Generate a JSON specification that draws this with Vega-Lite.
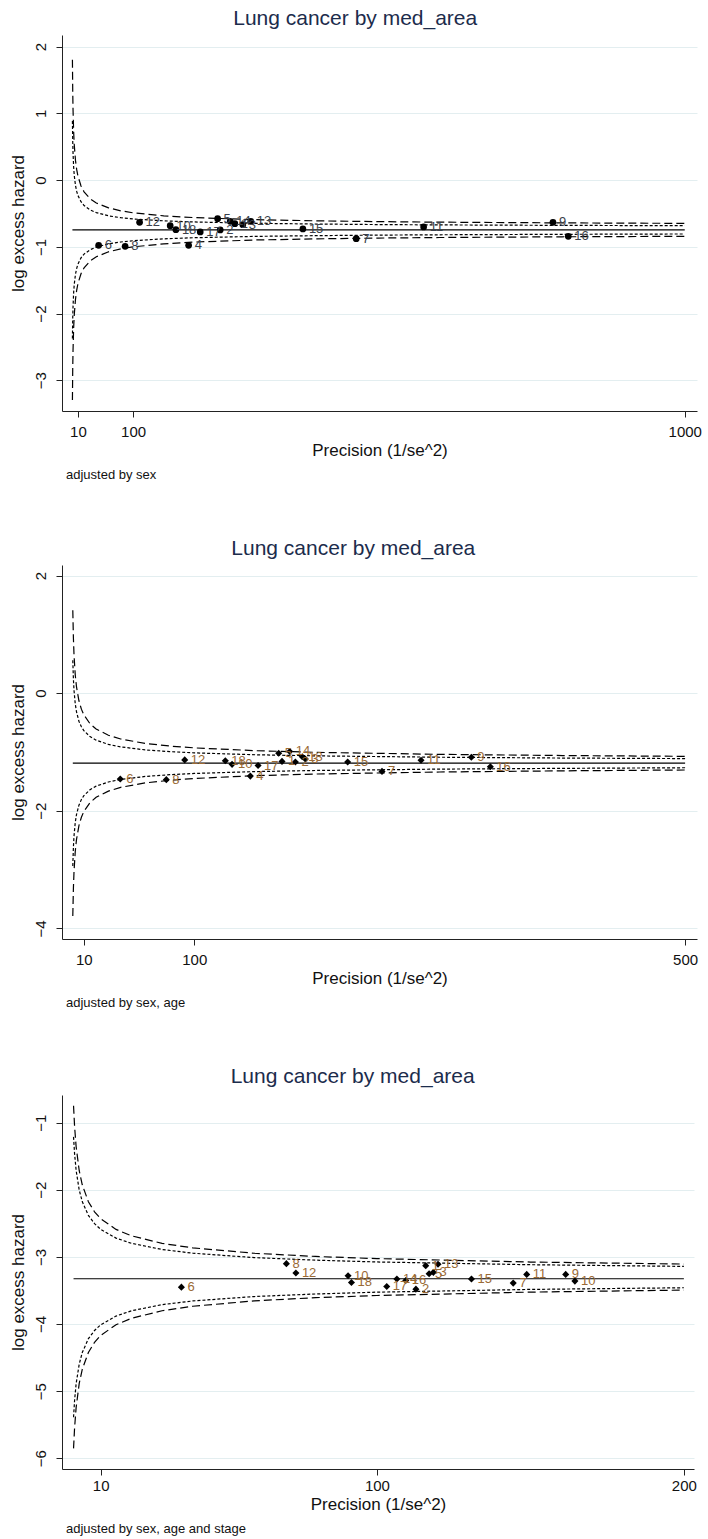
{
  "$schema": "https://vega.github.io/schema/vega-lite/v6.json",
  "background": "white",
  "padding": {"left": 8, "top": 8, "right": 0, "bottom": 0},
  "config": {
    "view": {"stroke": null},
    "font": "Liberation Sans, Arial",
    "axis": {
      "domainColor": "#222", "tickColor": "#222", "labelColor": "#111", "titleColor": "#111",
      "labelFont": "Liberation Sans, Arial", "titleFont": "Liberation Sans, Arial",
      "labelFontSize": 15, "titleFontSize": 17, "titleFontWeight": "normal", "tickSize": 6, "format": "d"
    },
    "axisX": {"grid": false, "labelPadding": 7, "titlePadding": 3},
    "axisY": {"grid": true, "gridColor": "#e3eef0", "labelAngle": -90, "labelAlign": "center", "labelBaseline": "bottom", "labelPadding": 8, "titlePadding": 6},
    "title": {"font": "Liberation Sans, Arial", "fontWeight": "normal"},
    "concat": {"spacing": 56}
  },
  "datasets": {
    "p1": [
      {"a": "12", "p": 110.6, "y": -0.633}, {"a": "10", "p": 160.5, "y": -0.682}, {"a": "18", "p": 169.8, "y": -0.742},
      {"a": "17", "p": 209.5, "y": -0.777}, {"a": "5", "p": 237.9, "y": -0.577}, {"a": "2", "p": 242.1, "y": -0.747},
      {"a": "14", "p": 258.4, "y": -0.618}, {"a": "1", "p": 266, "y": -0.652}, {"a": "3", "p": 279, "y": -0.667},
      {"a": "13", "p": 292, "y": -0.618}, {"a": "15", "p": 377, "y": -0.732}, {"a": "11", "p": 574, "y": -0.702},
      {"a": "9", "p": 785, "y": -0.633}, {"a": "16", "p": 810, "y": -0.842}, {"a": "7", "p": 464, "y": -0.877},
      {"a": "6", "p": 43.8, "y": -0.977}, {"a": "8", "p": 87, "y": -0.992}, {"a": "4", "p": 190.6, "y": -0.977}
    ],
    "p2": [
      {"a": "12", "p": 92.2, "y": -1.134}, {"a": "18", "p": 125.3, "y": -1.15}, {"a": "10", "p": 130.8, "y": -1.21},
      {"a": "17", "p": 152, "y": -1.23}, {"a": "5", "p": 168.8, "y": -1.02}, {"a": "1", "p": 171.5, "y": -1.16},
      {"a": "14", "p": 177.8, "y": -0.99}, {"a": "2", "p": 182.4, "y": -1.17}, {"a": "13", "p": 188, "y": -1.08},
      {"a": "3", "p": 190.5, "y": -1.12}, {"a": "15", "p": 225, "y": -1.17}, {"a": "11", "p": 284.8, "y": -1.14},
      {"a": "9", "p": 325.8, "y": -1.09}, {"a": "16", "p": 341.3, "y": -1.25}, {"a": "7", "p": 253, "y": -1.33},
      {"a": "4", "p": 145.7, "y": -1.41}, {"a": "6", "p": 39.7, "y": -1.46}, {"a": "8", "p": 77.2, "y": -1.47}
    ],
    "p3": [
      {"a": "8", "p": 70.5, "y": -3.1}, {"a": "12", "p": 73.6, "y": -3.24}, {"a": "10", "p": 90.6, "y": -3.28},
      {"a": "18", "p": 91.7, "y": -3.38}, {"a": "17", "p": 103.2, "y": -3.44}, {"a": "14", "p": 106.5, "y": -3.33},
      {"a": "16", "p": 109.4, "y": -3.35}, {"a": "2", "p": 112.7, "y": -3.48}, {"a": "1", "p": 115.9, "y": -3.13},
      {"a": "5", "p": 117, "y": -3.25}, {"a": "3", "p": 118.4, "y": -3.23}, {"a": "13", "p": 119.9, "y": -3.11},
      {"a": "15", "p": 130.8, "y": -3.33}, {"a": "7", "p": 144.4, "y": -3.39}, {"a": "11", "p": 148.8, "y": -3.26},
      {"a": "9", "p": 161.5, "y": -3.26}, {"a": "10", "p": 164.5, "y": -3.36}, {"a": "6", "p": 36.3, "y": -3.45}
    ],
    "c1": [
      {"p": 1, "ohi": 1.805, "olo": -3.295, "ihi": 0.885, "ilo": -2.375, "m": -0.745},
      {"p": 1.5, "ohi": 1.337, "olo": -2.827, "ihi": 0.586, "ilo": -2.076, "m": -0.745},
      {"p": 2, "ohi": 1.058, "olo": -2.548, "ihi": 0.408, "ilo": -1.898, "m": -0.745},
      {"p": 3, "ohi": 0.727, "olo": -2.217, "ihi": 0.196, "ilo": -1.686, "m": -0.745},
      {"p": 4, "ohi": 0.53, "olo": -2.02, "ihi": 0.07, "ilo": -1.56, "m": -0.745},
      {"p": 6, "ohi": 0.296, "olo": -1.786, "ihi": -0.08, "ilo": -1.41, "m": -0.745},
      {"p": 8, "ohi": 0.157, "olo": -1.647, "ihi": -0.169, "ilo": -1.321, "m": -0.745},
      {"p": 10, "ohi": 0.061, "olo": -1.551, "ihi": -0.23, "ilo": -1.26, "m": -0.745},
      {"p": 15, "ohi": -0.087, "olo": -1.403, "ihi": -0.324, "ilo": -1.166, "m": -0.745},
      {"p": 20, "ohi": -0.175, "olo": -1.315, "ihi": -0.381, "ilo": -1.109, "m": -0.745},
      {"p": 30, "ohi": -0.279, "olo": -1.211, "ihi": -0.447, "ilo": -1.043, "m": -0.745},
      {"p": 40, "ohi": -0.342, "olo": -1.148, "ihi": -0.487, "ilo": -1.003, "m": -0.745},
      {"p": 60, "ohi": -0.416, "olo": -1.074, "ihi": -0.535, "ilo": -0.955, "m": -0.745},
      {"p": 80, "ohi": -0.46, "olo": -1.03, "ihi": -0.563, "ilo": -0.927, "m": -0.745},
      {"p": 100, "ohi": -0.49, "olo": -1.0, "ihi": -0.582, "ilo": -0.908, "m": -0.745},
      {"p": 150, "ohi": -0.535, "olo": -0.955, "ihi": -0.61, "ilo": -0.88, "m": -0.745},
      {"p": 200, "ohi": -0.562, "olo": -0.928, "ihi": -0.627, "ilo": -0.863, "m": -0.745},
      {"p": 300, "ohi": -0.593, "olo": -0.897, "ihi": -0.647, "ilo": -0.843, "m": -0.745},
      {"p": 400, "ohi": -0.61, "olo": -0.88, "ihi": -0.658, "ilo": -0.832, "m": -0.745},
      {"p": 500, "ohi": -0.622, "olo": -0.868, "ihi": -0.666, "ilo": -0.824, "m": -0.745},
      {"p": 600, "ohi": -0.63, "olo": -0.86, "ihi": -0.671, "ilo": -0.819, "m": -0.745},
      {"p": 800, "ohi": -0.641, "olo": -0.849, "ihi": -0.678, "ilo": -0.812, "m": -0.745},
      {"p": 1000, "ohi": -0.648, "olo": -0.842, "ihi": -0.683, "ilo": -0.807, "m": -0.745}
    ],
    "c2": [
      {"p": 1, "ohi": 1.41, "olo": -3.79, "ihi": 0.56, "ilo": -2.94, "m": -1.19},
      {"p": 1.5, "ohi": 0.933, "olo": -3.313, "ihi": 0.239, "ilo": -2.619, "m": -1.19},
      {"p": 2, "ohi": 0.648, "olo": -3.028, "ihi": 0.047, "ilo": -2.427, "m": -1.19},
      {"p": 3, "ohi": 0.311, "olo": -2.691, "ihi": -0.18, "ilo": -2.2, "m": -1.19},
      {"p": 4, "ohi": 0.11, "olo": -2.49, "ihi": -0.315, "ilo": -2.065, "m": -1.19},
      {"p": 6, "ohi": -0.129, "olo": -2.251, "ihi": -0.476, "ilo": -1.904, "m": -1.19},
      {"p": 8, "ohi": -0.271, "olo": -2.109, "ihi": -0.571, "ilo": -1.809, "m": -1.19},
      {"p": 10, "ohi": -0.368, "olo": -2.012, "ihi": -0.637, "ilo": -1.743, "m": -1.19},
      {"p": 15, "ohi": -0.519, "olo": -1.861, "ihi": -0.738, "ilo": -1.642, "m": -1.19},
      {"p": 20, "ohi": -0.609, "olo": -1.771, "ihi": -0.799, "ilo": -1.581, "m": -1.19},
      {"p": 30, "ohi": -0.715, "olo": -1.665, "ihi": -0.87, "ilo": -1.51, "m": -1.19},
      {"p": 40, "ohi": -0.779, "olo": -1.601, "ihi": -0.913, "ilo": -1.467, "m": -1.19},
      {"p": 60, "ohi": -0.854, "olo": -1.526, "ihi": -0.964, "ilo": -1.416, "m": -1.19},
      {"p": 80, "ohi": -0.899, "olo": -1.481, "ihi": -0.994, "ilo": -1.386, "m": -1.19},
      {"p": 100, "ohi": -0.93, "olo": -1.45, "ihi": -1.015, "ilo": -1.365, "m": -1.19},
      {"p": 150, "ohi": -0.978, "olo": -1.402, "ihi": -1.047, "ilo": -1.333, "m": -1.19},
      {"p": 200, "ohi": -1.006, "olo": -1.374, "ihi": -1.066, "ilo": -1.314, "m": -1.19},
      {"p": 300, "ohi": -1.04, "olo": -1.34, "ihi": -1.089, "ilo": -1.291, "m": -1.19},
      {"p": 400, "ohi": -1.06, "olo": -1.32, "ihi": -1.103, "ilo": -1.278, "m": -1.19},
      {"p": 500, "ohi": -1.074, "olo": -1.306, "ihi": -1.112, "ilo": -1.268, "m": -1.19}
    ],
    "c3": [
      {"p": 1.16, "ohi": -0.747, "olo": -5.853, "ihi": -1.211, "ilo": -5.389, "m": -3.325},
      {"p": 1.5, "ohi": -1.055, "olo": -5.545, "ihi": -1.463, "ilo": -5.137, "m": -3.325},
      {"p": 2, "ohi": -1.355, "olo": -5.245, "ihi": -1.709, "ilo": -4.891, "m": -3.325},
      {"p": 3, "ohi": -1.712, "olo": -4.888, "ihi": -2.001, "ilo": -4.599, "m": -3.325},
      {"p": 4, "ohi": -1.925, "olo": -4.675, "ihi": -2.175, "ilo": -4.425, "m": -3.325},
      {"p": 6, "ohi": -2.177, "olo": -4.423, "ihi": -2.382, "ilo": -4.218, "m": -3.325},
      {"p": 8, "ohi": -2.328, "olo": -4.272, "ihi": -2.504, "ilo": -4.096, "m": -3.325},
      {"p": 10, "ohi": -2.43, "olo": -4.17, "ihi": -2.589, "ilo": -4.011, "m": -3.325},
      {"p": 15, "ohi": -2.59, "olo": -4.01, "ihi": -2.719, "ilo": -3.881, "m": -3.325},
      {"p": 20, "ohi": -2.685, "olo": -3.915, "ihi": -2.797, "ilo": -3.803, "m": -3.325},
      {"p": 30, "ohi": -2.798, "olo": -3.802, "ihi": -2.889, "ilo": -3.711, "m": -3.325},
      {"p": 40, "ohi": -2.865, "olo": -3.735, "ihi": -2.944, "ilo": -3.656, "m": -3.325},
      {"p": 60, "ohi": -2.945, "olo": -3.655, "ihi": -3.01, "ilo": -3.59, "m": -3.325},
      {"p": 80, "ohi": -2.993, "olo": -3.607, "ihi": -3.048, "ilo": -3.552, "m": -3.325},
      {"p": 100, "ohi": -3.025, "olo": -3.575, "ihi": -3.075, "ilo": -3.525, "m": -3.325},
      {"p": 150, "ohi": -3.076, "olo": -3.524, "ihi": -3.116, "ilo": -3.484, "m": -3.325},
      {"p": 200, "ohi": -3.106, "olo": -3.494, "ihi": -3.141, "ilo": -3.459, "m": -3.325}
    ]
  },
  "vconcat": [
    {
      "title": {"text": "Lung cancer by med_area", "anchor": "middle", "frame": "bounds", "fontSize": 21, "color": "#1c2c4c", "offset": 6},
      "vconcat": [{
        "width": 635, "height": 376,
        "title": {"text": "adjusted by sex", "orient": "bottom", "anchor": "start", "frame": "group", "fontSize": 13, "color": "#111", "offset": 11, "dx": 4},
        "layer": [
          {
            "data": {"name": "c1"},
            "transform": [{"fold": ["ohi", "olo", "ihi", "ilo", "m"], "as": ["s", "y"]}],
            "mark": {"type": "line", "strokeWidth": 1.2, "color": "#000"},
            "encoding": {
              "x": {"field": "p", "type": "quantitative", "scale": {"domain": [-16, 1020], "nice": false, "zero": false},
                    "axis": {"values": [10, 100, 1000], "title": "Precision (1/se^2)"}},
              "y": {"field": "y", "type": "quantitative", "scale": {"domain": [-3.46, 2.175], "nice": false, "zero": false},
                    "axis": {"values": [2, 1, 0, -1, -2, -3], "title": "log excess hazard"}},
              "detail": {"field": "s", "type": "nominal"},
              "strokeDash": {"field": "s", "type": "nominal", "scale": {"domain": ["ohi", "olo", "ihi", "ilo", "m"], "range": [[8, 4], [8, 4], [3, 2], [3, 2], [1, 0]]}, "legend": null}
            }
          },
          {
            "data": {"name": "p1"},
            "mark": {"type": "point", "shape": "circle", "filled": true, "color": "#000", "size": 45, "opacity": 1},
            "encoding": {"x": {"field": "p", "type": "quantitative"}, "y": {"field": "y", "type": "quantitative"}}
          },
          {
            "data": {"name": "p1"},
            "mark": {"type": "text", "align": "left", "baseline": "middle", "dx": 6, "fontSize": 13, "color": "#3a3f4a"},
            "encoding": {"x": {"field": "p", "type": "quantitative"}, "y": {"field": "y", "type": "quantitative"}, "text": {"field": "a"}}
          }
        ]
      }]
    },
    {
      "title": {"text": "Lung cancer by med_area", "anchor": "middle", "frame": "bounds", "fontSize": 21, "color": "#1c2c4c", "offset": 6},
      "vconcat": [{
        "width": 635, "height": 374,
        "title": {"text": "adjusted by sex, age", "orient": "bottom", "anchor": "start", "frame": "group", "fontSize": 13, "color": "#111", "offset": 11, "dx": 4},
        "layer": [
          {
            "data": {"name": "c2"},
            "transform": [{"fold": ["ohi", "olo", "ihi", "ilo", "m"], "as": ["s", "y"]}],
            "mark": {"type": "line", "strokeWidth": 1.2, "color": "#000"},
            "encoding": {
              "x": {"field": "p", "type": "quantitative", "scale": {"domain": [-7.8, 509.7], "nice": false, "zero": false},
                    "axis": {"values": [10, 100, 500], "title": "Precision (1/se^2)"}},
              "y": {"field": "y", "type": "quantitative", "scale": {"domain": [-4.18, 2.18], "nice": false, "zero": false},
                    "axis": {"values": [2, 0, -2, -4], "title": "log excess hazard"}},
              "detail": {"field": "s", "type": "nominal"},
              "strokeDash": {"field": "s", "type": "nominal", "scale": {"domain": ["ohi", "olo", "ihi", "ilo", "m"], "range": [[8, 4], [8, 4], [3, 2], [3, 2], [1, 0]]}, "legend": null}
            }
          },
          {
            "data": {"name": "p2"},
            "mark": {"type": "point", "shape": "diamond", "filled": true, "color": "#000", "size": 50, "opacity": 1},
            "encoding": {"x": {"field": "p", "type": "quantitative"}, "y": {"field": "y", "type": "quantitative"}}
          },
          {
            "data": {"name": "p2"},
            "mark": {"type": "text", "align": "left", "baseline": "middle", "dx": 6, "fontSize": 13, "color": "#9a6a35"},
            "encoding": {"x": {"field": "p", "type": "quantitative"}, "y": {"field": "y", "type": "quantitative"}, "text": {"field": "a"}}
          }
        ]
      }]
    },
    {
      "title": {"text": "Lung cancer by med_area", "anchor": "middle", "frame": "bounds", "fontSize": 21, "color": "#1c2c4c", "offset": 8},
      "vconcat": [{
        "width": 632, "height": 374,
        "title": {"text": "adjusted by sex, age and stage", "orient": "bottom", "anchor": "start", "frame": "group", "fontSize": 13, "color": "#111", "offset": 11, "dx": 4},
        "layer": [
          {
            "data": {"name": "c3"},
            "transform": [{"fold": ["ohi", "olo", "ihi", "ilo", "m"], "as": ["s", "y"]}],
            "mark": {"type": "line", "strokeWidth": 1.2, "color": "#000"},
            "encoding": {
              "x": {"field": "p", "type": "quantitative", "scale": {"domain": [-2.6, 203.3], "nice": false, "zero": false},
                    "axis": {"values": [10, 100, 200], "title": "Precision (1/se^2)", "labelPadding": 3}},
              "y": {"field": "y", "type": "quantitative", "scale": {"domain": [-6.16, -0.587], "nice": false, "zero": false},
                    "axis": {"values": [-1, -2, -3, -4, -5, -6], "title": "log excess hazard"}},
              "detail": {"field": "s", "type": "nominal"},
              "strokeDash": {"field": "s", "type": "nominal", "scale": {"domain": ["ohi", "olo", "ihi", "ilo", "m"], "range": [[8, 4], [8, 4], [3, 2], [3, 2], [1, 0]]}, "legend": null}
            }
          },
          {
            "data": {"name": "p3"},
            "mark": {"type": "point", "shape": "diamond", "filled": true, "color": "#000", "size": 50, "opacity": 1},
            "encoding": {"x": {"field": "p", "type": "quantitative"}, "y": {"field": "y", "type": "quantitative"}}
          },
          {
            "data": {"name": "p3"},
            "mark": {"type": "text", "align": "left", "baseline": "middle", "dx": 6, "fontSize": 13, "color": "#9a6a35"},
            "encoding": {"x": {"field": "p", "type": "quantitative"}, "y": {"field": "y", "type": "quantitative"}, "text": {"field": "a"}}
          }
        ]
      }]
    }
  ]
}
